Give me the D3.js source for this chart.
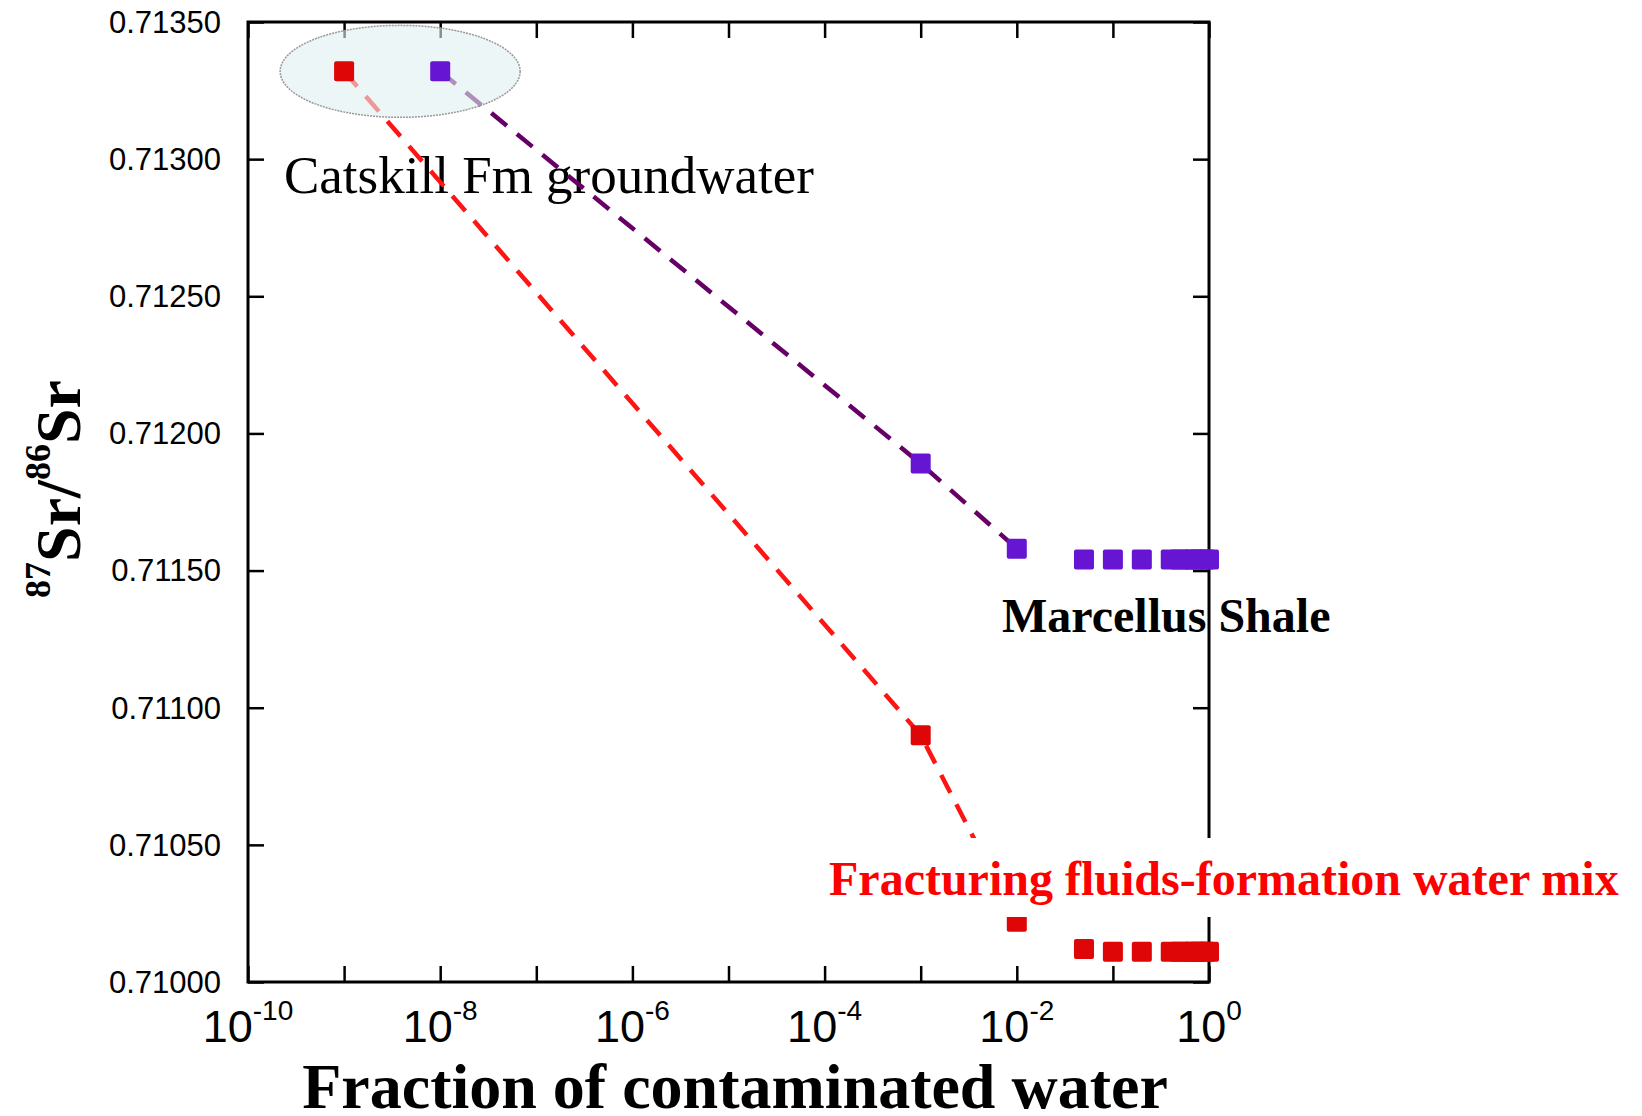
<!DOCTYPE html>
<html>
<head>
<meta charset="utf-8">
<script src="https://cdn.jsdelivr.net/npm/d3@7"></script>
<style>
  body { margin: 0; background: #fff; }
  .tick-label { font-family: "Liberation Sans", Arial, sans-serif; fill: #000; }
  .serif { font-family: "Liberation Serif", "Times New Roman", serif; }
</style>
</head>
<body>
<script>
// tick values
const xTicks = [1e-10, 1e-9, 1e-8, 1e-7, 1e-6, 1e-5, 1e-4, 1e-3, 1e-2, 1e-1, 1e0];
const xLabelTicks = [1e-10, 1e-8, 1e-6, 1e-4, 1e-2, 1e0];
const yTicks = [0.71000, 0.71050, 0.71100, 0.71150, 0.71200, 0.71250, 0.71300, 0.71350];

// fracturing fluids-formation water mix (red)
const fracX = [1e-9, 1e-3, 1e-2, 0.05, 0.1, 0.2, 0.4, 0.5, 0.6, 0.7, 0.8, 0.9, 1.0];
const fracY = [0.71332, 0.71090, 0.71022, 0.71012, 0.71011, 0.71011, 0.71011, 0.71011, 0.71011, 0.71011, 0.71011, 0.71011, 0.71011];

// Marcellus Shale (purple)
const shaleX = [1e-8, 1e-3, 1e-2, 0.05, 0.1, 0.2, 0.4, 0.5, 0.6, 0.7, 0.8, 0.9, 1.0];
const shaleY = [0.71332, 0.71189, 0.71158, 0.71154, 0.71154, 0.71154, 0.71154, 0.71154, 0.71154, 0.71154, 0.71154, 0.71154, 0.71154];

// dashed mixing lines use the first three points of each series
const lineCount = 3;

const W = 1642, H = 1116;
const margin = {top: 22, right: 433, bottom: 134, left: 248};
const width = W - margin.left - margin.right,
  height = H - margin.top - margin.bottom;

const svg = d3.select("body").append("svg")
  .attr("width", W)
  .attr("height", H);

const g = svg.append("g")
  .attr("transform", "translate(" + margin.left + "," + margin.top + ")");

const x = d3.scaleLog().domain([1e-10, 1]).range([0, width]);
const y = d3.scaleLinear().domain([0.71, 0.7135]).range([height, 0]);

// labels behind lines
g.append("text")
  .attr("class", "serif")
  .attr("x", 36)
  .attr("y", 171)
  .attr("font-size", 53)
  .text("Catskill Fm groundwater");

g.append("text")
  .attr("class", "serif")
  .attr("x", 754)
  .attr("y", 610)
  .attr("font-size", 48)
  .attr("font-weight", "bold")
  .text("Marcellus Shale");

// axes: ticks pointing inward on all four sides
const tickLen = 16;
g.append("g")
  .attr("transform", "translate(0," + height + ")")
  .call(d3.axisBottom(x).tickValues(xTicks).tickSize(-tickLen).tickFormat(""))
  .call(a => a.select(".domain").remove());
g.append("g")
  .call(d3.axisTop(x).tickValues(xTicks).tickSize(-tickLen).tickFormat(""))
  .call(a => a.select(".domain").remove());
g.append("g")
  .call(d3.axisLeft(y).tickValues(yTicks).tickSize(-tickLen).tickFormat(""))
  .call(a => a.select(".domain").remove());
g.append("g")
  .attr("transform", "translate(" + width + ",0)")
  .call(d3.axisRight(y).tickValues(yTicks).tickSize(-tickLen).tickFormat(""))
  .call(a => a.select(".domain").remove());
g.selectAll(".tick line").attr("stroke", "#000").attr("stroke-width", 2.5);

g.append("rect")
  .attr("width", width)
  .attr("height", height)
  .attr("fill", "none")
  .attr("stroke", "#000")
  .attr("stroke-width", 3);

// y tick labels
g.selectAll(".ylab")
  .data(yTicks)
  .enter().append("text")
  .attr("class", "tick-label")
  .attr("x", -27)
  .attr("y", d => y(d))
  .attr("dy", "0.35em")
  .attr("text-anchor", "end")
  .attr("font-size", 31)
  .text(d => d3.format(".5f")(d));

// x tick labels as powers of ten
const xl = g.selectAll(".xlab")
  .data(xLabelTicks)
  .enter().append("text")
  .attr("class", "tick-label")
  .attr("x", d => x(d))
  .attr("y", height + 60)
  .attr("text-anchor", "middle")
  .attr("font-size", 45);
xl.append("tspan").text("10");
xl.append("tspan")
  .attr("font-size", 28)
  .attr("dy", -22)
  .text(d => Math.round(Math.log10(d)));

// dashed mixing lines
const line = d3.line().x(d => x(d[0])).y(d => y(d[1]));
const fracPts = fracX.map((v, i) => [v, fracY[i]]);
const shalePts = shaleX.map((v, i) => [v, shaleY[i]]);

g.append("path")
  .datum(fracPts.slice(0, lineCount))
  .attr("fill", "none")
  .attr("stroke", "#ff1414")
  .attr("stroke-width", 4.5)
  .attr("stroke-dasharray", "20,13")
  .attr("d", line);

g.append("path")
  .datum(shalePts.slice(0, lineCount))
  .attr("fill", "none")
  .attr("stroke", "#660066")
  .attr("stroke-width", 4.5)
  .attr("stroke-dasharray", "20,13")
  .attr("d", line);

// groundwater ellipse
g.append("ellipse")
  .attr("cx", (x(1e-9) + x(1e-8)) / 2 + 8)
  .attr("cy", y(0.71332))
  .attr("rx", 120)
  .attr("ry", 46)
  .attr("fill", "#dff0f0")
  .attr("fill-opacity", 0.6)
  .attr("stroke", "#999")
  .attr("stroke-width", 1.5)
  .attr("stroke-dasharray", "2,1");

// markers
const ms = 20;
g.selectAll(".frac")
  .data(fracPts)
  .enter().append("rect")
  .attr("x", d => x(d[0]) - ms / 2)
  .attr("y", d => y(d[1]) - ms / 2)
  .attr("width", ms)
  .attr("height", ms)
  .attr("rx", 2)
  .attr("fill", "#de0606");

g.selectAll(".shale")
  .data(shalePts)
  .enter().append("rect")
  .attr("x", d => x(d[0]) - ms / 2)
  .attr("y", d => y(d[1]) - ms / 2)
  .attr("width", ms)
  .attr("height", ms)
  .attr("rx", 2)
  .attr("fill", "#6616d2");

// fracturing label on a white box
g.append("rect")
  .attr("x", 572)
  .attr("y", 816)
  .attr("width", 820)
  .attr("height", 79)
  .attr("fill", "#fff");
g.append("text")
  .attr("class", "serif")
  .attr("x", 581)
  .attr("y", 873)
  .attr("font-size", 48)
  .attr("font-weight", "bold")
  .attr("fill", "#ff0000")
  .text("Fracturing fluids-formation water mix");

// axis titles
svg.append("text")
  .attr("class", "serif")
  .attr("x", 735)
  .attr("y", 1108)
  .attr("text-anchor", "middle")
  .attr("font-size", 64)
  .attr("font-weight", "bold")
  .text("Fraction of contaminated water");

const yt = svg.append("text")
  .attr("class", "serif")
  .attr("transform", "translate(80,489) rotate(-90)")
  .attr("text-anchor", "middle")
  .attr("font-size", 64)
  .attr("font-weight", "bold");
yt.append("tspan").attr("font-size", 36).attr("dy", -30).text("87");
yt.append("tspan").attr("dy", 30).text("Sr/");
yt.append("tspan").attr("font-size", 36).attr("dy", -30).text("86");
yt.append("tspan").attr("dy", 30).text("Sr");
</script>
</body>
</html>
